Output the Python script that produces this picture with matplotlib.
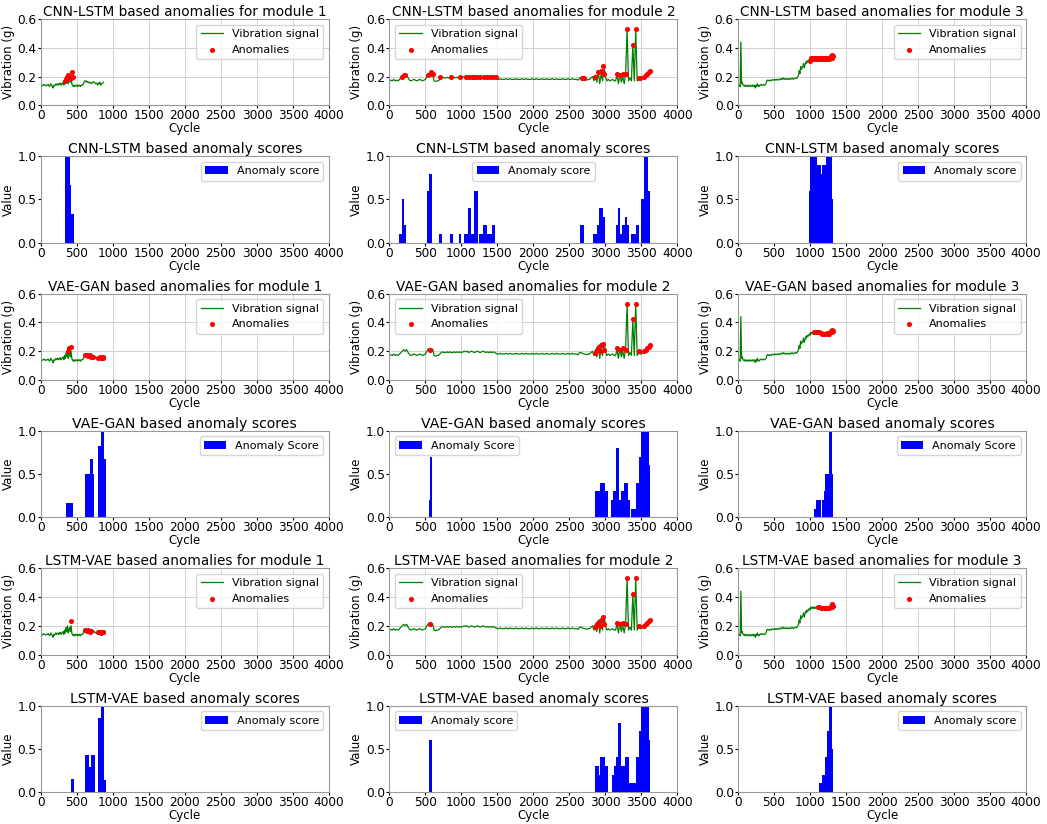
import numpy as np
import matplotlib
matplotlib.use("Agg")
import matplotlib.pyplot as plt

# ---------------- vibration signals (one per module) ----------------
# module 1: one value every 10 cycles
sig1_step = 10
sig1_values = [
    0.14, 0.14, 0.135, 0.14, 0.145, 0.14, 0.14, 0.135, 0.14, 0.14,
    0.145, 0.14, 0.13, 0.14, 0.15, 0.14, 0.13, 0.12, 0.14, 0.135,
    0.14, 0.15, 0.14, 0.145, 0.15, 0.14, 0.15, 0.155, 0.14, 0.15,
    0.15, 0.16, 0.14, 0.17, 0.15, 0.19, 0.16, 0.20, 0.15, 0.17,
    0.19, 0.16, 0.20, 0.15, 0.14, 0.13, 0.14, 0.13, 0.14, 0.135,
    0.14, 0.13, 0.14, 0.135, 0.14, 0.13, 0.14, 0.14, 0.14, 0.15,
    0.16, 0.17, 0.165, 0.17, 0.16, 0.165, 0.16, 0.155, 0.16, 0.16,
    0.15, 0.155, 0.16, 0.165, 0.16, 0.155, 0.15, 0.155, 0.15, 0.14,
    0.155, 0.15, 0.16, 0.14, 0.15, 0.15, 0.155, 0.16,
]

# module 2: one value every 20 cycles
sig2_step = 20
sig2_values = [
    0.17, 0.175, 0.17, 0.18, 0.17, 0.175, 0.17, 0.18, 0.19, 0.20,
    0.21, 0.20, 0.21, 0.19, 0.175, 0.17, 0.175, 0.18, 0.175, 0.17,
    0.175, 0.18, 0.175, 0.17, 0.175, 0.18, 0.20, 0.215, 0.22, 0.21,
    0.215, 0.17, 0.165, 0.17, 0.17, 0.18, 0.19, 0.195, 0.19, 0.19,
    0.195, 0.19, 0.195, 0.19, 0.19, 0.195, 0.19, 0.195, 0.19, 0.195,
    0.19, 0.195, 0.20, 0.195, 0.20, 0.19, 0.195, 0.20, 0.195, 0.19,
    0.195, 0.20, 0.195, 0.19, 0.195, 0.20, 0.195, 0.19, 0.195, 0.19,
    0.195, 0.19, 0.195, 0.19, 0.185, 0.18, 0.18, 0.185, 0.18, 0.18,
    0.18, 0.185, 0.18, 0.18, 0.185, 0.18, 0.18, 0.18, 0.185, 0.18,
    0.18, 0.18, 0.185, 0.18, 0.18, 0.185, 0.18, 0.18, 0.18, 0.185,
    0.18, 0.18, 0.185, 0.18, 0.18, 0.18, 0.185, 0.18, 0.18, 0.185,
    0.18, 0.18, 0.18, 0.185, 0.18, 0.18, 0.185, 0.18, 0.18, 0.18,
    0.185, 0.18, 0.18, 0.18, 0.185, 0.18, 0.18, 0.185, 0.18, 0.18,
    0.18, 0.175, 0.19, 0.19, 0.185, 0.18, 0.18, 0.175, 0.18, 0.18,
    0.19, 0.20, 0.17, 0.21, 0.16, 0.24, 0.15, 0.22, 0.17, 0.26,
    0.20, 0.17, 0.18, 0.17, 0.175, 0.18, 0.17, 0.17, 0.21, 0.15,
    0.22, 0.16, 0.20, 0.15, 0.22, 0.53, 0.17, 0.19, 0.17, 0.42,
    0.17, 0.53, 0.17, 0.19, 0.18, 0.18, 0.19, 0.20, 0.21, 0.22,
    0.23, 0.24,
]

# module 3: one value every 10 cycles
sig3_step = 10
sig3_values = [
    0.13, 0.135, 0.14, 0.13, 0.44, 0.15, 0.16, 0.14, 0.135, 0.14,
    0.13, 0.14, 0.135, 0.13, 0.14, 0.13, 0.135, 0.14, 0.13, 0.135,
    0.14, 0.13, 0.14, 0.135, 0.12, 0.14, 0.13, 0.15, 0.135, 0.13,
    0.14, 0.14, 0.145, 0.14, 0.14, 0.145, 0.14, 0.14, 0.145, 0.15,
    0.17, 0.175, 0.17, 0.175, 0.17, 0.175, 0.17, 0.175, 0.18, 0.175,
    0.175, 0.18, 0.175, 0.18, 0.175, 0.18, 0.18, 0.175, 0.18, 0.185,
    0.18, 0.185, 0.18, 0.19, 0.185, 0.18, 0.185, 0.18, 0.185, 0.18,
    0.185, 0.18, 0.185, 0.18, 0.185, 0.19, 0.185, 0.18, 0.185, 0.19,
    0.19, 0.185, 0.19, 0.20, 0.21, 0.24, 0.22, 0.27, 0.25, 0.26,
    0.27, 0.29, 0.26, 0.28, 0.30, 0.29, 0.31, 0.30, 0.31, 0.32,
    0.31, 0.33, 0.32, 0.33, 0.32, 0.33, 0.32, 0.33, 0.32, 0.33,
    0.32, 0.33, 0.32, 0.33, 0.32, 0.325, 0.33, 0.32, 0.33, 0.32,
    0.33, 0.32, 0.33, 0.325, 0.33, 0.32, 0.33, 0.32, 0.33, 0.34,
    0.33, 0.35, 0.34,
]

# ---------------- detected anomalies (cycle, vibration) ----------------
cnn_m1_cyc = [340, 350, 360, 370, 380, 390, 400, 410, 420, 430, 440]
cnn_m1_val = [0.17, 0.18, 0.19, 0.20, 0.21, 0.20, 0.19, 0.20, 0.19, 0.23, 0.20]
vae_m1_cyc = [380, 390, 420, 620, 640, 660, 680, 700, 720, 800, 820, 840, 860, 870]
vae_m1_val = [0.20, 0.22, 0.23, 0.17, 0.17, 0.165, 0.17, 0.16, 0.16, 0.155, 0.16, 0.15, 0.155, 0.16]
lstm_m1_cyc = [420, 620, 640, 660, 680, 700, 800, 820, 840, 860, 870]
lstm_m1_val = [0.23, 0.17, 0.165, 0.17, 0.16, 0.165, 0.155, 0.16, 0.15, 0.155, 0.16]

cnn_m2_cyc = [180, 200, 220, 540, 560, 580, 600, 700, 860, 980, 1060, 1100, 1140, 1180,
              1220, 1260, 1320, 1360, 1400, 1440, 1480, 2670, 2700, 2860, 2900, 2940,
              2960, 2980, 3160, 3200, 3240, 3280, 3300, 3380, 3420, 3460, 3480, 3540,
              3560, 3580, 3600, 3620]
cnn_m2_val = [0.20, 0.21, 0.21, 0.21, 0.22, 0.23, 0.22, 0.20, 0.20, 0.20, 0.20, 0.20, 0.20, 0.20,
              0.20, 0.20, 0.20, 0.20, 0.20, 0.20, 0.20, 0.19, 0.19, 0.20, 0.23, 0.24,
              0.27, 0.22, 0.22, 0.21, 0.22, 0.22, 0.53, 0.42, 0.53, 0.19, 0.19, 0.20,
              0.21, 0.22, 0.23, 0.24]
vae_m2_cyc = [570, 2860, 2880, 2900, 2920, 2940, 2960, 2980, 3160, 3200, 3240, 3280,
              3300, 3380, 3420, 3470, 3540, 3560, 3580, 3600, 3620]
vae_m2_val = [0.21, 0.19, 0.21, 0.22, 0.20, 0.24, 0.25, 0.21, 0.22, 0.21, 0.22, 0.21,
              0.53, 0.42, 0.53, 0.20, 0.20, 0.21, 0.22, 0.23, 0.24]
lstm_m2_cyc = [570, 2860, 2880, 2900, 2920, 2940, 2960, 2980, 3160, 3200, 3240, 3280,
               3300, 3380, 3420, 3470, 3540, 3560, 3580, 3600, 3620]
lstm_m2_val = [0.21, 0.19, 0.21, 0.22, 0.20, 0.24, 0.26, 0.21, 0.22, 0.21, 0.22, 0.21,
               0.53, 0.42, 0.53, 0.20, 0.20, 0.21, 0.22, 0.23, 0.24]

cnn_m3_cyc = [1000, 1010, 1020, 1030, 1040, 1050, 1060, 1070, 1080, 1090, 1100, 1110,
              1120, 1130, 1140, 1150, 1160, 1170, 1180, 1190, 1200, 1210, 1220, 1230,
              1240, 1250, 1260, 1270, 1280, 1290, 1300, 1310, 1320]
cnn_m3_val = [0.31, 0.33, 0.32, 0.33, 0.32, 0.33, 0.32, 0.33, 0.32, 0.33, 0.32, 0.33,
              0.32, 0.33, 0.32, 0.325, 0.33, 0.32, 0.33, 0.32, 0.33, 0.32, 0.33, 0.325,
              0.33, 0.32, 0.33, 0.32, 0.33, 0.34, 0.33, 0.35, 0.34]
vae_m3_cyc = [1050, 1070, 1090, 1110, 1130, 1150, 1170, 1190, 1210, 1230, 1250, 1270,
              1290, 1300, 1310, 1320]
vae_m3_val = [0.33, 0.33, 0.33, 0.33, 0.33, 0.325, 0.32, 0.32, 0.32, 0.325, 0.32, 0.32,
              0.34, 0.33, 0.35, 0.34]
lstm_m3_cyc = [1110, 1130, 1150, 1170, 1190, 1210, 1230, 1250, 1270, 1290, 1300, 1310, 1320]
lstm_m3_val = [0.33, 0.33, 0.325, 0.32, 0.32, 0.32, 0.325, 0.32, 0.32, 0.34, 0.33, 0.35, 0.34]

# ---------------- anomaly scores (segment start, segment end, score) ----------------
cnn_s1_start = [330, 410, 425]
cnn_s1_end = [410, 425, 455]
cnn_s1_val = [1.0, 0.67, 0.33]
cnn_s2_start = [130, 170, 200, 520, 550, 690, 840, 960, 1040, 1090, 1130, 1180, 1250,
                1300, 1350, 1420, 2640, 2820, 2880, 2910, 2960, 3140, 3170, 3200, 3230,
                3270, 3300, 3350, 3420, 3500, 3530, 3590]
cnn_s2_end = [170, 200, 230, 550, 590, 730, 880, 1000, 1090, 1130, 1180, 1230, 1300,
              1350, 1420, 1470, 2700, 2880, 2910, 2960, 2990, 3170, 3200, 3230, 3270,
              3300, 3320, 3420, 3470, 3530, 3590, 3615]
cnn_s2_val = [0.1, 0.5, 0.2, 0.6, 0.8, 0.1, 0.1, 0.1, 0.1, 0.4, 0.1, 0.6, 0.1,
              0.2, 0.1, 0.2, 0.2, 0.1, 0.2, 0.4, 0.3, 0.2, 0.4, 0.1, 0.2,
              0.3, 0.2, 0.1, 0.2, 0.5, 1.0, 0.6]
cnn_s3_start = [980, 1000, 1100, 1150, 1170, 1220, 1300]
cnn_s3_end = [1000, 1100, 1150, 1170, 1220, 1300, 1320]
cnn_s3_val = [0.6, 1.0, 0.9, 0.8, 0.9, 1.0, 0.5]

vae_s1_start = [350, 620, 680, 720, 800, 840, 880, 900]
vae_s1_end = [450, 680, 720, 740, 840, 880, 900, 910]
vae_s1_val = [0.17, 0.5, 0.67, 0.5, 0.83, 1.0, 0.67, 0.33]
vae_s2_start = [555, 565, 2860, 2920, 2990, 3080, 3110, 3150, 3190, 3220, 3260, 3310,
                3350, 3420, 3470, 3490, 3600]
vae_s2_end = [565, 590, 2920, 2990, 3030, 3110, 3150, 3190, 3220, 3260, 3310, 3340,
              3420, 3470, 3490, 3600, 3620]
vae_s2_val = [0.2, 0.7, 0.3, 0.4, 0.3, 0.2, 0.3, 0.8, 0.2, 0.3, 0.4, 0.2,
              0.1, 0.4, 0.7, 1.0, 0.6]
vae_s3_start = [1050, 1090, 1160, 1190, 1210, 1260, 1300]
vae_s3_end = [1090, 1150, 1190, 1210, 1260, 1300, 1320]
vae_s3_val = [0.1, 0.2, 0.2, 0.3, 0.5, 1.0, 0.5]

lstm_s1_start = [420, 620, 670, 690, 800, 840, 880]
lstm_s1_end = [460, 670, 690, 750, 840, 880, 900]
lstm_s1_val = [0.15, 0.43, 0.29, 0.43, 0.86, 1.0, 0.14]
lstm_s2_start = [555, 2860, 2910, 2930, 3000, 3090, 3120, 3150, 3170, 3210, 3270, 3330,
                 3350, 3420, 3470, 3490, 3600]
lstm_s2_end = [590, 2910, 2930, 3000, 3040, 3120, 3150, 3170, 3210, 3270, 3320, 3350,
               3420, 3470, 3490, 3600, 3620]
lstm_s2_val = [0.6, 0.3, 0.2, 0.4, 0.3, 0.2, 0.3, 0.4, 0.8, 0.3, 0.4, 0.1,
               0.1, 0.4, 0.7, 1.0, 0.6]
lstm_s3_start = [1130, 1160, 1210, 1230, 1270, 1300]
lstm_s3_end = [1160, 1210, 1230, 1270, 1300, 1320]
lstm_s3_val = [0.1, 0.2, 0.4, 0.7, 1.0, 0.5]

models = ["CNN-LSTM", "VAE-GAN", "LSTM-VAE"]
score_labels = ["Anomaly score", "Anomaly Score", "Anomaly score"]

signals = [
    (np.arange(len(sig1_values)) * sig1_step, sig1_values),
    (np.arange(len(sig2_values)) * sig2_step, sig2_values),
    (np.arange(len(sig3_values)) * sig3_step, sig3_values),
]
anomalies = [
    [(cnn_m1_cyc, cnn_m1_val), (cnn_m2_cyc, cnn_m2_val), (cnn_m3_cyc, cnn_m3_val)],
    [(vae_m1_cyc, vae_m1_val), (vae_m2_cyc, vae_m2_val), (vae_m3_cyc, vae_m3_val)],
    [(lstm_m1_cyc, lstm_m1_val), (lstm_m2_cyc, lstm_m2_val), (lstm_m3_cyc, lstm_m3_val)],
]
scores = [
    [(cnn_s1_start, cnn_s1_end, cnn_s1_val), (cnn_s2_start, cnn_s2_end, cnn_s2_val),
     (cnn_s3_start, cnn_s3_end, cnn_s3_val)],
    [(vae_s1_start, vae_s1_end, vae_s1_val), (vae_s2_start, vae_s2_end, vae_s2_val),
     (vae_s3_start, vae_s3_end, vae_s3_val)],
    [(lstm_s1_start, lstm_s1_end, lstm_s1_val), (lstm_s2_start, lstm_s2_end, lstm_s2_val),
     (lstm_s3_start, lstm_s3_end, lstm_s3_val)],
]

# legend placement per panel
line_legend_loc = ["upper right", "upper left", "upper right"]
score_legend_loc = [
    ["upper right", "upper center", "upper right"],
    ["upper right", "upper left", "upper right"],
    ["upper right", "upper left", "upper right"],
]

plt.rcParams["font.family"] = "DejaVu Sans"
fig, axes = plt.subplots(6, 3, figsize=(10.47, 8.24), dpi=100)
fig.subplots_adjust(left=0.039, right=0.980, top=0.977, bottom=0.039,
                    wspace=0.21, hspace=0.59)

for m, model in enumerate(models):
    for k in range(3):
        # anomaly plot
        ax = axes[2 * m, k]
        x, y = signals[k]
        ax.plot(x, y, color="green", linewidth=0.9, label="Vibration signal")
        ac, av = anomalies[m][k]
        ax.scatter(ac, av, color="red", s=7, label="Anomalies", zorder=3)
        ax.set_xlim(0, 4000)
        ax.set_ylim(0, 0.6)
        ax.set_yticks([0.0, 0.2, 0.4, 0.6])
        ax.set_xticks(range(0, 4001, 500))
        ax.grid(True, color="#d0d0d0", linewidth=0.7)
        ax.set_title(f"{model} based anomalies for module {k + 1}", fontsize=9.8, pad=2)
        ax.set_xlabel("Cycle", fontsize=8.5, labelpad=0)
        ax.set_ylabel("Vibration (g)", fontsize=8.5, labelpad=2)
        ax.legend(loc=line_legend_loc[k], fontsize=8)

        # score plot
        ax = axes[2 * m + 1, k]
        s0, s1, sv = scores[m][k]
        widths = [e - s for s, e in zip(s0, s1)]
        ax.bar(s0, sv, width=widths, align="edge", color="blue", label=score_labels[m])
        ax.set_xlim(0, 4000)
        ax.set_ylim(0, 1.0)
        ax.set_yticks([0.0, 0.5, 1.0])
        ax.set_xticks(range(0, 4001, 500))
        ax.set_title(f"{model} based anomaly scores", fontsize=10.1, pad=2)
        ax.set_xlabel("Cycle", fontsize=8.5, labelpad=0)
        ax.set_ylabel("Value", fontsize=8.5, labelpad=2)
        ax.legend(loc=score_legend_loc[m][k], fontsize=8)

for ax in axes.flat:
    ax.tick_params(labelsize=8.7, length=2, pad=1)
    for sp in ax.spines.values():
        sp.set_color("#999999")

fig.savefig("out.png", dpi=100)
